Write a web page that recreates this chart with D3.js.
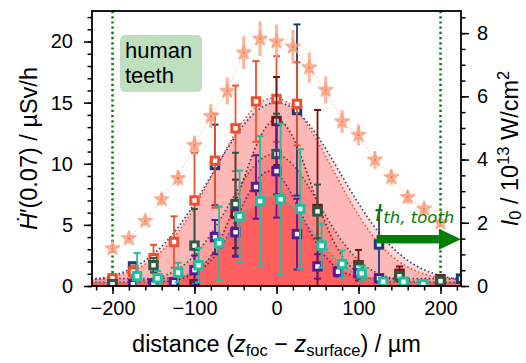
<!DOCTYPE html>
<html><head><meta charset="utf-8">
<script src="https://cdn.jsdelivr.net/npm/d3@7/dist/d3.min.js"></script>
<style>
body{margin:0;background:#fff}
text{font-family:"Liberation Sans",Arial,sans-serif;fill:#000}
</style>
</head><body>
<svg id="c" width="526" height="363"></svg>
<script>
// ---------------- data ----------------
const xTicks = [-200, -100, 0, 100, 200];
const leftTicks = [0, 5, 10, 15, 20];
const rightTicks = [0, 2, 4, 6, 8];
const limitLines = [-200, 200];

// intensity I0 (right axis, 10^13 W/cm^2)
const starX = [-200,-180,-160,-140,-120,-100,-80,-60,-40,-20,0,20,40,60,80,100,120,140,160,180,200];
const starI = [1.19,1.51,2.06,2.74,3.41,4.45,5.37,6.17,7.38,7.82,7.73,7.57,6.91,6.20,5.20,4.78,3.99,3.44,2.81,2.44,2.00];
const starErr = [0.08,0.10,0.14,0.19,0.24,0.31,0.38,0.43,0.52,0.55,0.54,0.53,0.48,0.43,0.36,0.33,0.28,0.24,0.20,0.17,0.14];

// dose-rate series (left axis, µSv/h)
const oX = [-200,-175,-150,-125,-100,-75,-50,-25,0,25];
const oY = [0.63,1.17,2.27,3.6,7.0,10.25,12.9,15.1,15.3,14.9];
const oE = [0.3,0.5,1.1,2.1,3.9,3.85,3.5,3.3,3.5,3.4];

const nX = [-175,-75,25,125,225];
const nY = [1.6,9.9,14.4,3.4,0.6];
const nE = [0.3,3.3,7.0,2.8,0.2];

const mX = [-200,-150,-100,-50,0,50,100,150,200];
const mY = [0.1,0.2,0.15,5.9,13.5,6.3,1.7,1.0,0.55];
const mE = [0.05,0.1,0.1,2.8,3.6,8.1,1.25,0.6,0.1];

const gX = [-200,-150,-100,-50,0,50,100,150,200];
const gY = [0.15,1.7,3.3,6.7,10.8,6.1,1.5,0.8,0.4];
const gE = [0.1,0.6,3.0,4.2,3.3,2.2,0.5,0.3,0.1];

const pX = [-175,-150,-125,-100,-75,-50,-25,0,25,50,75,100,125];
const pY = [0.15,0.15,0.3,1.3,4.0,4.4,8.1,9.4,4.25,1.6,1.17,1.04,0.63];
const pE = [0.05,0.05,0.1,1.2,1.4,2.0,2.6,3.8,2.9,1.0,0.4,0.3,0.1];

const tX = [-170,-145,-120,-95,-70,-45,-20,5,29,55,80,104,130,155,179];
const tY = [0.8,0.63,1.1,1.7,3.5,5.7,6.95,7.1,6.3,3.3,1.8,1.04,0.35,0.35,0.15];
const tE = [1.9,0.6,0.8,1.4,3.0,3.75,5.3,6.2,4.9,1.8,1.1,0.6,0.2,0.2,0.1];

// Gaussian fit parameters [amplitude, centre, sigma, offset]
const fitN = [14.7, 0, 78, 0.3];
const fitO = [15.0, -3, 72, 0.4];
const fitM = [13.3, 0, 42, 0.3];
const fitG = [10.5, -3, 55, 0.3];
const fitP = [8.8, -8, 38, 0.6];
const fitT = [7.0, -5, 48, 0.3];

const thresholdI = 1.48;
const arrowFrom = 122;

// ---------------- chart ----------------
const svg = d3.select("#c");
const L=92, R=461, T=11, B=286;
const x = d3.scaleLinear().domain([-225,225]).range([L,R]);
const yL = d3.scaleLinear().domain([0,22.5]).range([B,T]);
const yR = d3.scaleLinear().domain([0,8.7]).range([B,T]);

svg.append("defs").append("clipPath").attr("id","clip")
  .append("rect").attr("x",L).attr("y",T).attr("width",R-L).attr("height",B-T);
const plot = svg.append("g").attr("clip-path","url(#clip)");

const series = [
  {X:nX,Y:nY,E:nE,fit:fitN,c:"#1c3b78"},
  {X:oX,Y:oY,E:oE,fit:fitO,c:"#f0502c"},
  {X:mX,Y:mY,E:mE,fit:fitM,c:"#7a1214"},
  {X:gX,Y:gY,E:gE,fit:fitG,c:"#2f5843"},
  {X:pX,Y:pY,E:pE,fit:fitP,c:"#5a1898"},
  {X:tX,Y:tY,E:tE,fit:fitT,c:"#20bf9f"}
];

const xs = d3.range(-226, 227, 2);
const gauss = (p,v)=> p[0]*Math.exp(-((v-p[1])**2)/(2*p[2]*p[2])) + p[3];

// fills
series.forEach(s=>{
  plot.append("path")
    .datum(xs)
    .attr("d", d3.area().x(v=>x(v)).y0(yL(0)).y1(v=>yL(gauss(s.fit,v))))
    .attr("fill","#ff0000").attr("fill-opacity",0.15);
});

// limit lines
limitLines.forEach(v=>{
  plot.append("line").attr("x1",x(v)).attr("x2",x(v)).attr("y1",T).attr("y2",B)
    .attr("stroke","#008000").attr("stroke-width",2.5).attr("stroke-dasharray","2.2,3");
});

// fit lines
series.forEach(s=>{
  plot.append("path").datum(xs)
    .attr("d", d3.line().x(v=>x(v)).y(v=>yL(gauss(s.fit,v))))
    .attr("fill","none").attr("stroke",s.c).attr("stroke-width",1.6)
    .attr("stroke-dasharray","1.5,2.5");
});

// star connecting line
plot.append("path").datum(starX.map((v,i)=>[v,starI[i]]))
  .attr("d", d3.line().x(d=>x(d[0])).y(d=>yR(d[1])))
  .attr("fill","none").attr("stroke","#fbbfa8").attr("stroke-width",1).attr("stroke-dasharray","1.5,2");

// error bars & markers
series.forEach(s=>{
  const g = plot.append("g");
  s.X.forEach((v,i)=>{
    const cx=x(v), y1=yL(s.Y[i]-s.E[i]), y2=yL(s.Y[i]+s.E[i]);
    g.append("line").attr("x1",cx).attr("x2",cx).attr("y1",y1).attr("y2",y2)
      .attr("stroke",s.c).attr("stroke-width",1.8);
    [y1,y2].forEach(yy=>g.append("line").attr("x1",cx-3.5).attr("x2",cx+3.5).attr("y1",yy).attr("y2",yy)
      .attr("stroke",s.c).attr("stroke-width",2));
  });
  s.X.forEach((v,i)=>{
    g.append("rect").attr("x",x(v)-3.7).attr("y",yL(s.Y[i])-3.7).attr("width",7.4).attr("height",7.4)
      .attr("fill","#fff").attr("stroke",s.c).attr("stroke-width",3);
  });
});

// stars
const sg = plot.append("g");
starX.forEach((v,i)=>{
  sg.append("line").attr("x1",x(v)).attr("x2",x(v))
    .attr("y1",yR(starI[i]-starErr[i])).attr("y2",yR(starI[i]+starErr[i]))
    .attr("stroke","#f99a76").attr("stroke-opacity",0.7).attr("stroke-width",3.2);
  sg.append("path").attr("d",d3.symbol(d3.symbolStar).size(60)())
    .attr("transform",`translate(${x(v)},${yR(starI[i])})`)
    .attr("fill","#fbab8c").attr("fill-opacity",0.75)
    .attr("stroke","#f99a76").attr("stroke-opacity",0.7).attr("stroke-width",2).attr("stroke-linejoin","round");
  sg.append("circle").attr("cx",x(v)).attr("cy",yR(starI[i])).attr("r",1.2).attr("fill","#f27a58");
});

// threshold arrow
const ay = yR(thresholdI);
const headStart = x(198);
svg.append("rect").attr("x",x(arrowFrom)).attr("y",ay-4.2).attr("width",headStart-x(arrowFrom)).attr("height",8.4).attr("fill","#008000");
svg.append("path").attr("d",`M${headStart},${ay-10.5}L${R},${ay}L${headStart},${ay+10.5}Z`).attr("fill","#008000");
const lab = svg.append("text").attr("x",x(arrowFrom)-1).attr("y",221)
  .style("fill","#008000").attr("font-style","italic").style("font-family",'"DejaVu Sans",sans-serif');
lab.append("tspan").attr("font-size",23).text("I");
lab.append("tspan").attr("font-size",16.5).attr("dy",1.5).attr("dx",1).text("th, tooth");

// text box
svg.append("rect").attr("x",120).attr("y",35).attr("width",82).attr("height",57).attr("rx",5)
  .attr("fill","#bfdfbf");
svg.append("text").attr("x",125).attr("y",58).attr("font-size",22).text("human");
svg.append("text").attr("x",125).attr("y",83).attr("font-size",22).text("teeth");

// axes
function styleAxis(g){ g.selectAll("path").remove(); g.selectAll("line").attr("stroke","#000").attr("stroke-width",1.5);
  g.selectAll("text").attr("font-size",20).style("font-family",'"Liberation Sans",Arial,sans-serif'); }
const fmt = d=> d<0 ? "\u2212"+Math.abs(d) : ""+d;

svg.append("g").attr("transform",`translate(0,${B})`)
  .call(d3.axisBottom(x).tickValues(d3.range(-220,221,20)).tickSize(4.5).tickFormat(""))
  .call(styleAxis);
svg.append("g").attr("transform",`translate(0,${B})`)
  .call(d3.axisBottom(x).tickValues(xTicks).tickSize(8).tickPadding(7).tickFormat(fmt))
  .call(styleAxis);
svg.append("g").attr("transform",`translate(${L},0)`)
  .call(d3.axisLeft(yL).tickValues(d3.range(0,22.01,1)).tickSize(4.5).tickFormat(""))
  .call(styleAxis);
svg.append("g").attr("transform",`translate(${L},0)`)
  .call(d3.axisLeft(yL).tickValues(leftTicks).tickSize(8).tickPadding(11).tickFormat(fmt))
  .call(styleAxis);
svg.append("g").attr("transform",`translate(${R},0)`)
  .call(d3.axisRight(yR).tickValues(d3.range(0,8.51,0.5)).tickSize(4.5).tickFormat(""))
  .call(styleAxis);
svg.append("g").attr("transform",`translate(${R},0)`)
  .call(d3.axisRight(yR).tickValues(rightTicks).tickSize(8).tickPadding(8).tickFormat(fmt))
  .call(styleAxis);

svg.append("rect").attr("x",L).attr("y",T).attr("width",R-L).attr("height",B-T)
  .attr("fill","none").attr("stroke","#000").attr("stroke-width",1.8);

// axis labels
const xl = svg.append("text").attr("x",(L+R)/2).attr("y",352).attr("text-anchor","middle").attr("font-size",23.5);
xl.append("tspan").text("distance (");
xl.append("tspan").attr("font-style","italic").text("z");
xl.append("tspan").attr("font-size",16.5).attr("dy",4).text("foc");
xl.append("tspan").attr("dy",-4).text(" \u2212 ");
xl.append("tspan").attr("font-style","italic").text("z");
xl.append("tspan").attr("font-size",16.5).attr("dy",4).text("surface");
xl.append("tspan").attr("dy",-4).text(") / \u00b5m");

const yl = svg.append("text").attr("transform",`translate(37,${(T+B)/2}) rotate(-90)`).attr("text-anchor","middle").attr("font-size",23.5);
yl.append("tspan").attr("font-style","italic").text("\u1E22");
yl.append("tspan").text("\u2032(0.07) / \u00b5Sv/h");

const yr = svg.append("text").attr("transform",`translate(518,${(T+B)/2}) rotate(-90)`).attr("text-anchor","middle").attr("font-size",23.5);
yr.append("tspan").attr("font-style","italic").text("I");
yr.append("tspan").attr("font-size",16.5).attr("dy",3).text("0");
yr.append("tspan").attr("dy",-3).text(" / 10");
yr.append("tspan").attr("font-size",16.5).attr("dy",-9).text("13");
yr.append("tspan").attr("dy",9).text(" W/cm");
yr.append("tspan").attr("font-size",16.5).attr("dy",-9).text("2");
</script>
</body></html>
